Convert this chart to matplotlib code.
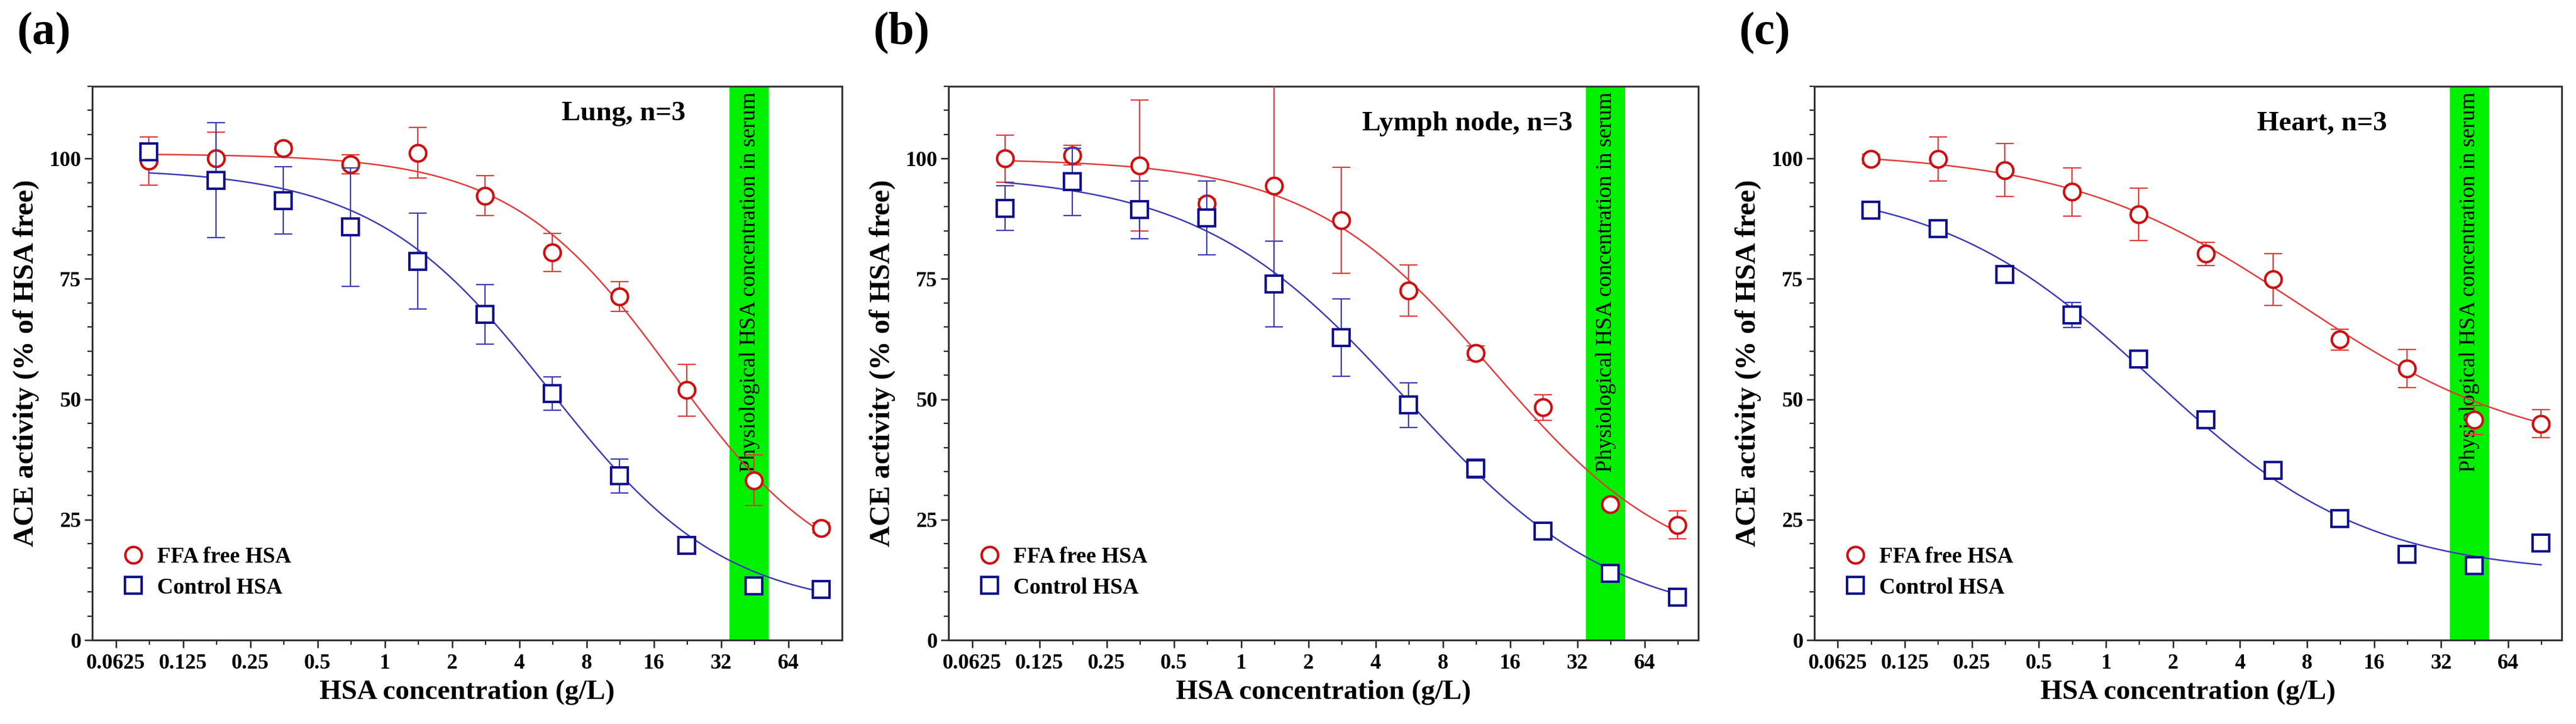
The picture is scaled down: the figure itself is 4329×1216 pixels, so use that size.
import numpy as np
import matplotlib
matplotlib.use('Agg')
import matplotlib.pyplot as plt
import matplotlib.transforms as mtransforms
from matplotlib.lines import Line2D
from matplotlib.ticker import FixedLocator, MultipleLocator, NullFormatter

plt.rcParams['font.family'] = ['Liberation Serif', 'DejaVu Serif']

# HSA concentration (g/L), two-fold dilution series
hsa_conc = [0.088, 0.176, 0.352, 0.703, 1.406, 2.8125, 5.625, 11.25, 22.5, 45, 90]
x_ticks = [0.0625, 0.125, 0.25, 0.5, 1, 2, 4, 8, 16, 32, 64]
x_ticklabels = ['0.0625', '0.125', '0.25', '0.5', '1', '2', '4', '8', '16', '32', '64']
y_ticks = [0, 25, 50, 75, 100]

panel_letters = ['(a)', '(b)', '(c)']
tissues = ['Lung, n=3', 'Lymph node, n=3', 'Heart, n=3']
series_names = ['FFA free HSA', 'Control HSA']
band_label = 'Physiological HSA concentration in serum'

# physiological HSA range in serum (g/L)
serum_range = [35, 52.5]

# ACE activity (% of HSA free): mean and error bar
lung_ffa = [99.5, 100.0, 102.1, 98.8, 101.2, 92.3, 80.5, 71.3, 51.9, 33.2, 23.3]
lung_ffa_err = [5.0, 5.5, 1.0, 2.0, 5.3, 4.1, 4.0, 3.1, 5.4, 5.2, 1.0]
lung_ctrl = [101.4, 95.5, 91.3, 85.8, 78.7, 67.6, 51.2, 34.1, 19.7, 11.3, 10.5]
lung_ctrl_err = [1.5, 11.9, 7.0, 12.3, 10.0, 6.2, 3.5, 3.5, 1.0, 1.0, 1.0]

lymph_ffa = [100.0, 100.7, 98.6, 90.6, 94.3, 87.2, 72.6, 59.6, 48.3, 28.2, 23.9]
lymph_ffa_err = [4.9, 2.0, 13.6, 1.0, 21.0, 11.0, 5.3, 1.5, 2.7, 1.0, 2.9]
lymph_ctrl = [89.7, 95.2, 89.4, 87.7, 73.9, 62.8, 48.8, 35.6, 22.6, 13.8, 8.9]
lymph_ctrl_err = [4.6, 7.0, 6.0, 7.7, 8.9, 8.0, 4.6, 2.0, 1.0, 1.0, 1.0]

heart_ffa = [99.9, 99.9, 97.6, 93.1, 88.4, 80.2, 74.9, 62.4, 56.4, 45.7, 44.9]
heart_ffa_err = [1.0, 4.6, 5.5, 5.0, 5.4, 2.4, 5.4, 2.2, 4.0, 3.0, 2.9]
heart_ctrl = [89.3, 85.5, 75.9, 67.5, 58.4, 45.7, 35.2, 25.2, 17.8, 15.4, 20.2]
heart_ctrl_err = [1.0, 1.0, 1.0, 2.6, 1.0, 1.0, 1.0, 1.0, 1.0, 1.0, 1.0]

# fitted dose-response curves: top, bottom, EC50 (g/L), Hill slope
lung_ffa_fit = [101.0, 10.0, 19.4, 1.2]
lung_ctrl_fit = [98.0, 6.0, 5.45, 1.1]
lymph_ffa_fit = [100.0, 12.0, 13.4, 1.05]
lymph_ctrl_fit = [97.0, 3.0, 5.5, 0.93]
heart_ffa_fit = [101.5, 38.0, 7.4, 0.83]
heart_ctrl_fit = [95.0, 13.5, 1.62, 0.9]

panels = [
    (lung_ffa, lung_ffa_err, lung_ffa_fit, lung_ctrl, lung_ctrl_err, lung_ctrl_fit),
    (lymph_ffa, lymph_ffa_err, lymph_ffa_fit, lymph_ctrl, lymph_ctrl_err, lymph_ctrl_fit),
    (heart_ffa, heart_ffa_err, heart_ffa_fit, heart_ctrl, heart_ctrl_err, heart_ctrl_fit),
]

marker_colors = ['#CC1010', '#10108C']
line_colors = ['#E23B3B', '#3B3BB4']
markers = ['o', 's']

# axes boxes in figure pixels (left, right)
W, H = 4329, 1216
ax_lr = [(155, 1415), (1594, 2854), (3049, 4305)]
ax_top, ax_bottom = 145, 1075
tissue_x = [0.791, 0.832, 0.766]
tissue_y = [0.95, 0.932, 0.932]


def four_pl(x, top, bottom, ec50, hill):
    return bottom + (top - bottom) / (1 + (x / ec50) ** hill)


fig = plt.figure(figsize=(W / 100, H / 100), dpi=100)

for i, (ffa, ffa_err, ffa_fit, ctrl, ctrl_err, ctrl_fit) in enumerate(panels):
    left, right = ax_lr[i]
    ax = fig.add_axes([left / W, 1 - ax_bottom / H, (right - left) / W, (ax_bottom - ax_top) / H])
    ax.set_xscale('log', base=2)
    ax.set_xlim(2 ** -4.35, 2 ** 6.8)
    ax.set_ylim(0, 115)

    # serum band
    ax.axvspan(serum_range[0], serum_range[1], color='#00F000', lw=0, zorder=0)
    trans = mtransforms.blended_transform_factory(ax.transData, ax.transAxes)
    ax.text(np.sqrt(serum_range[0] * serum_range[1]), 0.99, band_label, transform=trans,
            rotation=90, ha='center', va='top', fontsize=27, zorder=1)

    xs = np.logspace(np.log10(hsa_conc[0]), np.log10(hsa_conc[-1]), 300)
    series = [(ffa, ffa_err, ffa_fit), (ctrl, ctrl_err, ctrl_fit)]
    for k, (vals, errs, fit) in enumerate(series):
        z = 2 + 3 * k
        ax.plot(xs, four_pl(xs, *fit), color=line_colors[k], lw=1.8, zorder=z)
        ax.errorbar(hsa_conc, vals, yerr=errs, fmt='none', ecolor=line_colors[k],
                    elinewidth=1.6, capsize=10.5, capthick=1.6, zorder=z + 1)
        ax.plot(hsa_conc, vals, ls='none', marker=markers[k], ms=20, mfc='white',
                mec=marker_colors[k], mew=3.0, zorder=z + 2, clip_on=False)

    ax.text(tissue_x[i], tissue_y[i], tissues[i], transform=ax.transAxes,
            ha='right', va='center', fontsize=34, fontweight='bold')

    # ticks and spines
    ax.xaxis.set_major_locator(FixedLocator(x_ticks))
    ax.set_xticklabels(x_ticklabels)
    ax.xaxis.set_minor_locator(FixedLocator([t * np.sqrt(2) for t in x_ticks]))
    ax.xaxis.set_minor_formatter(NullFormatter())
    ax.set_yticks(y_ticks)
    ax.yaxis.set_minor_locator(MultipleLocator(5))
    ax.tick_params(which='major', direction='out', length=9.5, width=1.8, labelsize=26,
                   color='#222222', pad=4)
    ax.tick_params(axis='x', which='major', pad=7)
    ax.tick_params(which='minor', direction='out', length=5.5, width=1.6, color='#222222')
    for lab in ax.get_xticklabels() + ax.get_yticklabels():
        lab.set_fontweight('bold')
    for sp in ax.spines.values():
        sp.set_linewidth(2.2)
        sp.set_color('#333333')

    ax.set_xlabel('HSA concentration (g/L)', fontsize=34, fontweight='bold', labelpad=8)
    ax.set_ylabel('ACE activity (% of HSA free)', fontsize=35, fontweight='bold', labelpad=12)

    handles = [Line2D([], [], ls='none', marker=markers[k], ms=20, mfc='white',
                      mec=marker_colors[k], mew=3.0) for k in range(2)]
    ax.legend(handles, series_names, loc='center left', bbox_to_anchor=(0.040, 0.122),
              frameon=False, borderpad=0, borderaxespad=0, handlelength=1.0,
              handletextpad=0.57, labelspacing=0.43,
              prop={'size': 27, 'weight': 'bold'})

    fig.text((left - 126) / W, 1 - 56 / H, panel_letters[i], ha='left', va='center',
             fontsize=56, fontweight='bold')

fig.savefig('out.png', dpi=100)
